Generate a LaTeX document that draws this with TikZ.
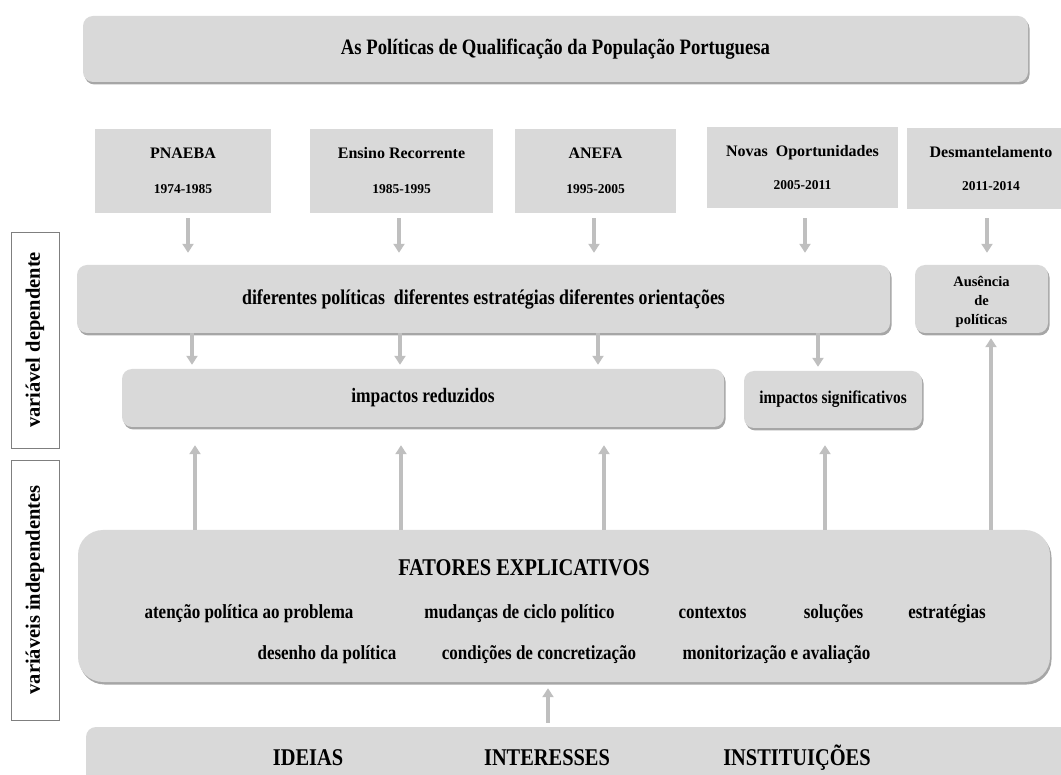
\documentclass[tikz,border=0pt]{standalone}
\usepackage{fontspec}
\setmainfont{Liberation Serif}
\newfontfamily\cond[FakeStretch=0.85]{Liberation Serif}
\usetikzlibrary{shadows,arrows.meta}
\definecolor{boxgray}{HTML}{D9D9D9}
\definecolor{arrgray}{HTML}{BFBFBF}
\definecolor{lblborder}{HTML}{7F7F7F}
\newcommand{\fsz}[2]{\fontsize{#1}{#2}\selectfont}
\begin{document}
\begin{tikzpicture}[x=1pt,y=-1pt,
  rbox/.style={fill=boxgray, rounded corners=10pt, inner sep=0pt,
    drop shadow={shadow xshift=1.5pt,shadow yshift=-2.5pt,opacity=0.35,fill=black}},
  tbox/.style={fill=boxgray, inner sep=0pt, align=center, font=\bfseries\fsz{16}{19}},
  lbl/.style={draw=lblborder, fill=white, line width=0.8pt, rotate=90, inner sep=0pt,
    minimum height=48pt, font=\bfseries\fsz{20.5}{24}},
  ctext/.style={font=\cond\bfseries\fsz{20}{24}, inner sep=0pt, anchor=base},
  arr/.style={draw=arrgray, line width=3.5pt, -{Triangle[width=11pt,length=9pt]}}
]
\useasboundingbox (0,0) rectangle (1061,775);

% title
\node[rbox, minimum width=945pt, minimum height=66pt, font=\cond\bfseries\fsz{22}{26}]
  (title) at (555.5,49) {As Políticas de Qualificação da População Portuguesa};

% period boxes
\node[tbox, minimum width=176pt, minimum height=84pt] (pnaeba) at (183,171)
  {\raisebox{-4pt}{PNAEBA}\\[20pt]{\fsz{13.5}{16}1974-1985}};
\node[tbox, minimum width=183pt, minimum height=84pt] (ensino) at (401.5,171)
  {\raisebox{-4pt}{Ensino Recorrente}\\[20pt]{\fsz{13.5}{16}1985-1995}};
\node[tbox, minimum width=161pt, minimum height=84pt] (anefa) at (595.5,171)
  {\raisebox{-4pt}{ANEFA}\\[20pt]{\fsz{13.5}{16}1995-2005}};
\node[tbox, minimum width=191pt, minimum height=81pt] (novas) at (802.5,167.5)
  {\raisebox{-2pt}{Novas \ Oportunidades}\\[16pt]{\fsz{13.5}{16}2005-2011}};
\node[tbox, minimum width=168pt, minimum height=81pt] (desman) at (991,168.5)
  {\raisebox{-2pt}{Desmantelamento}\\[16pt]{\fsz{13.5}{16}2011-2014}};

% policies row
\node[rbox, minimum width=813pt, minimum height=68pt, font=\cond\bfseries\fsz{21}{25}]
  (dif) at (483.5,299) {diferentes políticas \ diferentes estratégias diferentes orientações};
\node[rbox, minimum width=133pt, minimum height=68pt, font=\bfseries\fsz{14.5}{19}]
  (aus) at (981.5,299)
  {\raisebox{-6pt}[0pt][0pt]{\begin{tabular}{@{}c@{}}Ausência\\de\\políticas\end{tabular}}};

% impacts row
\node[rbox, minimum width=602pt, minimum height=58pt, font=\cond\bfseries\fsz{20.5}{24}]
  (impr) at (423,398) {impactos reduzidos};
\node[rbox, minimum width=178pt, minimum height=57pt, font=\cond\bfseries\fsz{18}{22}]
  (imps) at (833,399.5) {impactos significativos};

% explanatory factors
\node[rbox, rounded corners=25pt, minimum width=972pt, minimum height=152pt] (fat) at (564,606) {};
\node[ctext, font=\cond\bfseries\fsz{24}{28}] (f0) at (524,575) {FATORES EXPLICATIVOS};
\node[ctext] (f1) at (249,618) {atenção política ao problema};
\node[ctext] (f2) at (519.5,618) {mudanças de ciclo político};
\node[ctext] (f3) at (712.5,618) {contextos};
\node[ctext] (f4) at (833.5,618) {soluções};
\node[ctext] (f5) at (947,618) {estratégias};
\node[ctext] (f6) at (327,659) {desenho da política};
\node[ctext] (f7) at (539,659) {condições de concretização};
\node[ctext] (f8) at (776.5,659) {monitorização e avaliação};

% ideas / interests / institutions
\node[rbox, minimum width=984pt, minimum height=73pt] (ideias) at (578,763.5) {};
\node[ctext, font=\cond\bfseries\fsz{24}{28}] (i1) at (308,765) {IDEIAS};
\node[ctext, font=\cond\bfseries\fsz{24}{28}] (i2) at (547,765) {INTERESSES};
\node[ctext, font=\cond\bfseries\fsz{24}{28}] (i3) at (797,765) {INSTITUIÇÕES};

% side labels
\node[lbl, minimum width=216pt] (lab1) at (35,340) {variável dependente};
\node[lbl, minimum width=260pt] (lab2) at (35,590) {variáveis independentes};

% arrow columns
\coordinate (k1) at (188,0);
\coordinate (k2) at (399,0);
\coordinate (k3) at (594,0);
\coordinate (k4) at (805,0);
\coordinate (k5) at (987,0);
\coordinate (m1) at (192,0);
\coordinate (m2) at (400,0);
\coordinate (m3) at (598,0);
\coordinate (m4) at (818,0);
\coordinate (u1) at (195,0);
\coordinate (u2) at (401,0);
\coordinate (u3) at (604,0);
\coordinate (u4) at (825,0);
\coordinate (u5) at (991,0);
\coordinate (v1) at (548,0);

% top arrows
\draw[arr] ([yshift=-5pt]pnaeba.south -| k1) -- ([yshift=12pt]dif.north -| k1);
\draw[arr] ([yshift=-5pt]ensino.south -| k2) -- ([yshift=12pt]dif.north -| k2);
\draw[arr] ([yshift=-5pt]anefa.south -| k3) -- ([yshift=12pt]dif.north -| k3);
\draw[arr] ([yshift=-10pt]novas.south -| k4) -- ([yshift=12pt]dif.north -| k4);
\draw[arr] ([yshift=-9pt]desman.south -| k5) -- ([yshift=12pt]aus.north -| k5);

% policies -> impacts
\draw[arr] (dif.south -| m1) -- ([yshift=4pt]impr.north -| m1);
\draw[arr] (dif.south -| m2) -- ([yshift=4pt]impr.north -| m2);
\draw[arr] (dif.south -| m3) -- ([yshift=4pt]impr.north -| m3);
\draw[arr] (dif.south -| m4) -- ([yshift=4pt]imps.north -| m4);

% factors -> impacts
\draw[arr] (fat.north -| u1) -- ([yshift=-18pt]impr.south -| u1);
\draw[arr] (fat.north -| u2) -- ([yshift=-18pt]impr.south -| u2);
\draw[arr] (fat.north -| u3) -- ([yshift=-18pt]impr.south -| u3);
\draw[arr] (fat.north -| u4) -- ([yshift=-17pt]imps.south -| u4);
\draw[arr] (fat.north -| u5) -- ([yshift=-5pt]aus.south -| u5);

% ideas -> factors
\draw[arr] ([yshift=4pt]ideias.north -| v1) -- ([yshift=-6pt]fat.south -| v1);
\end{tikzpicture}
\end{document}
